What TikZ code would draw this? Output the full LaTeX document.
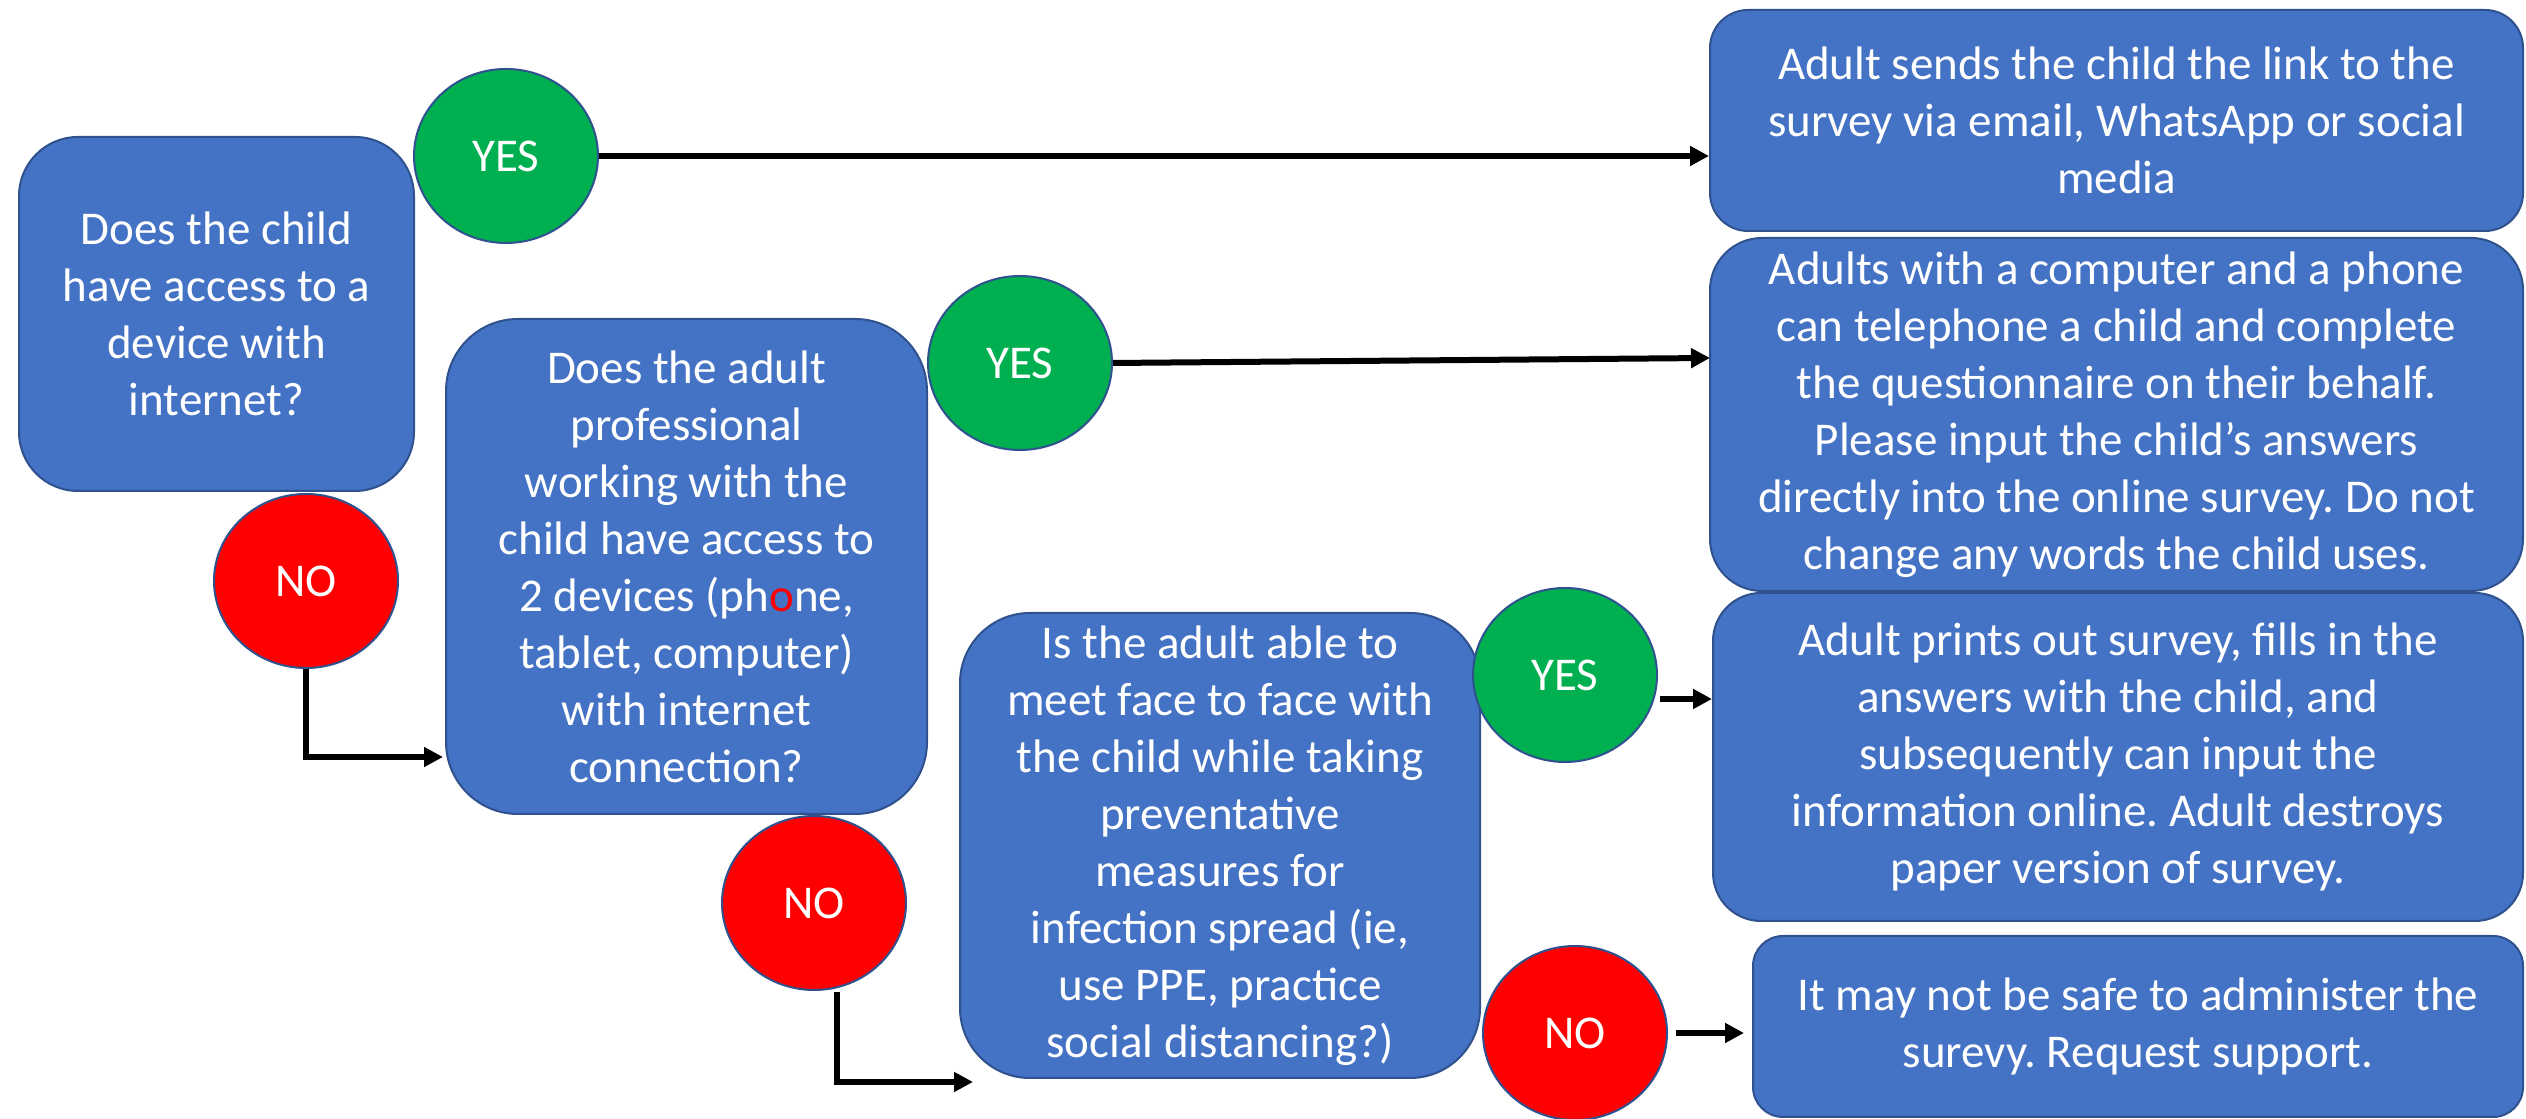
\documentclass[tikz,border=0pt]{standalone}
\usepackage{fontspec}
\setmainfont{Carlito}
\usetikzlibrary{shapes.geometric,arrows.meta}
\definecolor{boxblue}{HTML}{4472C4}
\definecolor{boxline}{HTML}{2F528F}
\definecolor{yesgreen}{HTML}{00B050}
\definecolor{nored}{HTML}{FF0000}
\frenchspacing

\begin{document}
\begin{tikzpicture}[x=0.25pt,y=0.25pt,yscale=-1,xscale=1,
  txt/.style={font=\fontsize{11.75}{14.25}\selectfont,text=white,align=center,inner sep=0pt},
  qbox/.style={txt,rectangle,draw=boxline,line width=0.5pt,fill=boxblue},
  yesdot/.style={txt,ellipse,draw=boxline,line width=0.5pt,fill=yesgreen,minimum width=46pt,minimum height=43.5pt},
  nodot/.style={yesdot,fill=nored},
  arr/.style={line width=1.5pt,-{Triangle[length=4.75pt,width=4.75pt]}}]
%uncomment if require: \path (0,1119); %set diagram left start at 0, and has height of 1119
\useasboundingbox (0,0) rectangle (2526,1119);

%Shape: Rounded Rect - first question
\node[qbox,minimum width=98.75pt,minimum height=88.5pt,rounded corners=14.75pt] (qchild) at (216.5,314)
  {Does the child\\have access to a\\device with\\internet?};
%Shape: Rounded Rect - second question
\node[qbox,minimum width=120.25pt,minimum height=123.75pt,rounded corners=18pt] (qadult) at (686.5,566.5)
  {Does the adult\\professional\\working with the\\child have access to\\2 devices (ph{\color{nored}o}ne,\\tablet, computer)\\with internet\\connection?};
%Shape: Rounded Rect - third question
\node[qbox,minimum width=130pt,minimum height=116.25pt,rounded corners=17.5pt] (qmeet) at (1220,845.5)
  {Is the adult able to\\meet face to face with\\the child while taking\\preventative\\measures for\\infection spread (ie,\\use PPE, practice\\social distancing?)};

%Shape: Rounded Rect - answers
\node[qbox,minimum width=203.25pt,minimum height=55.25pt,rounded corners=9.5pt] (alink) at (2116.5,120.5)
  {Adult sends the child the link to the\\survey via email, WhatsApp or social\\media};
\node[qbox,minimum width=203.25pt,minimum height=88.25pt,rounded corners=13pt] (aphone) at (2116.5,414.5)
  {Adults with a computer and a phone\\can telephone a child and complete\\the questionnaire on their behalf.\\Please input the child’s answers\\directly into the online survey. Do not\\change any words the child uses.};
\node[qbox,minimum width=202.5pt,minimum height=82pt,rounded corners=12pt] (aprint) at (2118,757)
  {Adult prints out survey, fills in the\\answers with the child, and\\subsequently can input the\\information online. Adult destroys\\paper version of survey.};
\node[qbox,minimum width=192.5pt,minimum height=45.25pt,rounded corners=7.5pt] (asupport) at (2138,1026.5)
  {It may not be safe to administer the\\surevy. Request support.};

%Shape: Ellipse - yes / no
\node[yesdot] (yes1) at (506,156) {YES};
\node[yesdot] (yes2) at (1020,363) {YES};
\node[yesdot] (yes3) at (1565,675) {YES};
\node[nodot] (no1) at (306,581) {NO};
\node[nodot] (no2) at (814,903) {NO};
\node[nodot] (no3) at (1575,1033) {NO};

%Straight Lines
\coordinate (yes2in) at (1710,358);
\coordinate (yes3out) at (1660,699);
\coordinate (no1in) at (443,757);
\coordinate (no2out) at (837,992);
\coordinate (no2in) at (973,1082);
\draw[arr] (yes1.east) -- (yes1.east -| alink.west);
\draw[arr] (yes2.east) -- (yes2in);
\draw[arr] (yes3out) -- (yes3out -| aprint.west);
\draw[arr,shorten <=2pt,shorten >=2pt] (no3.east) -- (no3.east -| asupport.west);
\draw[arr] (no1.south) |- (no1in);
\draw[arr] (no2out) |- (no2in);

\end{tikzpicture}
\end{document}
